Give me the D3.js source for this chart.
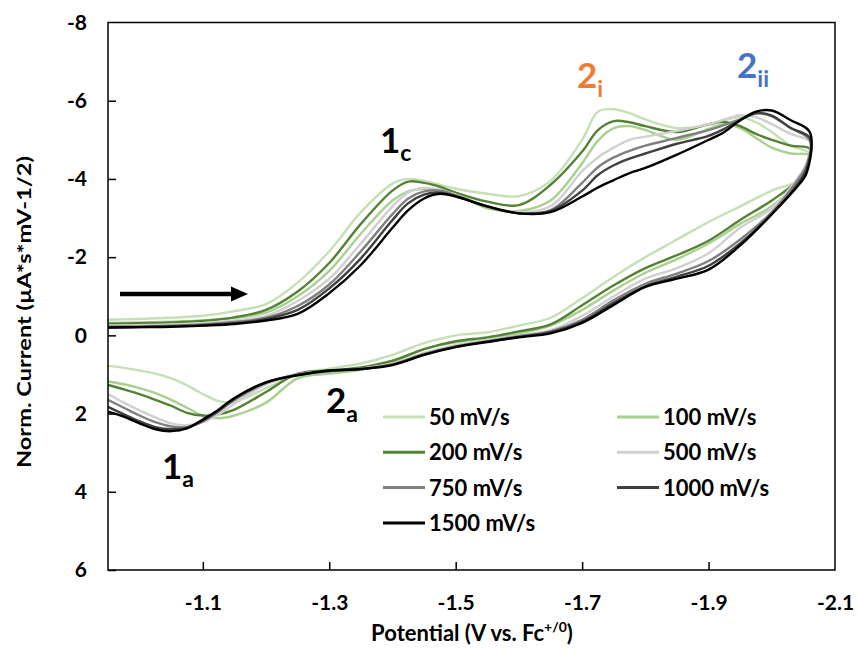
<!DOCTYPE html>
<html lang="en">
<head>
<meta charset="UTF-8">
<script src="https://d3js.org/d3.v7.min.js"></script>
<style>
    body{margin:0;background:#fff;}
    text{font-family:Lato,"Open Sans",sans-serif;font-weight:bold;fill:#000;}
</style>
<title>CV scan rates</title>
</head>
<body>
<div class="canvas"></div>
<script>
    // potentials (V vs Fc+/0), forward sweep then return sweep
    const potentialFwd = [-0.95,-1.0,-1.05,-1.1,-1.15,-1.2,-1.25,-1.3,-1.35,-1.4,-1.425,-1.45,-1.475,-1.5,-1.55,-1.6,-1.65,-1.7,-1.725,-1.75,-1.775,-1.8,-1.85,-1.9,-1.925,-1.95,-1.975,-2.0,-2.03,-2.06];
    const potentialRev = [-2.055,-2.04,-2.0,-1.95,-1.9,-1.85,-1.8,-1.75,-1.7,-1.65,-1.6,-1.55,-1.5,-1.45,-1.4,-1.35,-1.3,-1.25,-1.2,-1.15,-1.125,-1.1,-1.075,-1.05,-1.025,-1.0,-0.975,-0.95];

    const rates = ['50 mV/s','100 mV/s','200 mV/s','500 mV/s','750 mV/s','1000 mV/s','1500 mV/s'];

    // normalized current, forward sweep
    const fwd50   = [-0.4,-0.42,-0.45,-0.5,-0.62,-0.8,-1.35,-2.15,-3.15,-3.88,-4.0,-3.95,-3.85,-3.75,-3.62,-3.56,-3.95,-5.0,-5.72,-5.78,-5.68,-5.52,-5.3,-5.38,-5.5,-5.58,-5.45,-5.2,-4.85,-4.65];
    const fwd100  = [-0.32,-0.33,-0.35,-0.38,-0.45,-0.58,-1.0,-1.65,-2.6,-3.45,-3.68,-3.75,-3.72,-3.6,-3.25,-3.18,-3.45,-4.4,-4.98,-5.3,-5.35,-5.25,-5.0,-5.28,-5.4,-5.3,-5.05,-4.8,-4.65,-4.6];
    const fwd200  = [-0.3,-0.31,-0.33,-0.37,-0.46,-0.65,-1.12,-1.85,-2.85,-3.7,-3.93,-3.9,-3.8,-3.65,-3.42,-3.33,-3.85,-4.7,-5.25,-5.48,-5.45,-5.35,-5.2,-5.4,-5.46,-5.35,-5.15,-5.0,-4.85,-4.77];
    const fwd500  = [-0.25,-0.26,-0.28,-0.31,-0.38,-0.5,-0.88,-1.45,-2.35,-3.3,-3.65,-3.77,-3.72,-3.6,-3.3,-3.15,-3.3,-4.2,-4.55,-4.8,-5.0,-5.08,-5.23,-5.4,-5.52,-5.63,-5.58,-5.4,-5.15,-4.95];
    const fwd750  = [-0.22,-0.23,-0.25,-0.28,-0.34,-0.45,-0.75,-1.3,-2.15,-3.1,-3.5,-3.68,-3.7,-3.58,-3.3,-3.12,-3.2,-3.9,-4.3,-4.55,-4.72,-4.85,-5.05,-5.25,-5.38,-5.52,-5.68,-5.6,-5.3,-5.0];
    const fwd1000 = [-0.2,-0.21,-0.23,-0.26,-0.31,-0.42,-0.65,-1.2,-1.97,-2.95,-3.38,-3.6,-3.65,-3.56,-3.3,-3.12,-3.18,-3.7,-4.1,-4.35,-4.52,-4.65,-4.9,-5.1,-5.28,-5.5,-5.68,-5.62,-5.3,-5.05];
    const fwd1500 = [-0.2,-0.21,-0.22,-0.25,-0.29,-0.38,-0.55,-1.08,-1.8,-2.75,-3.2,-3.5,-3.62,-3.55,-3.3,-3.12,-3.15,-3.55,-3.78,-3.97,-4.15,-4.28,-4.62,-5.0,-5.2,-5.5,-5.72,-5.75,-5.5,-5.2];

    // normalized current, return sweep
    const rev50   = [-4.3,-3.95,-3.7,-3.3,-2.9,-2.45,-2.0,-1.5,-0.95,-0.45,-0.25,-0.08,0.0,0.2,0.5,0.72,0.85,1.0,1.35,1.7,1.68,1.5,1.28,1.1,0.98,0.9,0.83,0.78];
    const rev100  = [-4.25,-3.9,-3.3,-2.85,-2.35,-1.95,-1.6,-1.15,-0.65,-0.25,-0.05,0.08,0.18,0.35,0.7,0.88,0.98,1.1,1.72,2.05,2.12,2.05,1.85,1.65,1.48,1.35,1.25,1.18];
    const rev200  = [-4.35,-3.95,-3.45,-2.95,-2.42,-2.05,-1.72,-1.28,-0.77,-0.28,-0.1,0.05,0.15,0.35,0.65,0.82,0.9,0.98,1.45,1.9,2.02,2.05,1.98,1.8,1.65,1.5,1.38,1.27];
    const rev500  = [-4.4,-4.0,-3.25,-2.75,-2.1,-1.72,-1.45,-1.0,-0.5,-0.13,0.0,0.12,0.25,0.45,0.72,0.85,0.92,1.0,1.25,1.75,2.02,2.22,2.3,2.25,2.1,1.92,1.72,1.5];
    const rev750  = [-4.35,-3.95,-3.15,-2.45,-1.9,-1.58,-1.32,-0.9,-0.4,-0.1,0.02,0.15,0.28,0.48,0.74,0.86,0.92,1.0,1.22,1.65,1.95,2.2,2.35,2.33,2.22,2.05,1.85,1.65];
    const rev1000 = [-4.25,-3.85,-3.1,-2.35,-1.78,-1.5,-1.25,-0.83,-0.35,-0.08,0.04,0.16,0.29,0.49,0.75,0.86,0.91,1.01,1.2,1.62,1.92,2.18,2.36,2.4,2.35,2.2,2.02,1.83];
    const rev1500 = [-4.15,-3.8,-3.1,-2.3,-1.68,-1.45,-1.24,-0.78,-0.32,-0.05,0.05,0.17,0.3,0.5,0.76,0.86,0.9,1.02,1.2,1.6,1.9,2.15,2.38,2.45,2.4,2.25,2.08,1.95];

    const xTicks = [-1.1,-1.3,-1.5,-1.7,-1.9,-2.1];
    const yTicks = [-8,-6,-4,-2,0,2,4,6];

    const colors = ['#c5e0b4','#a9d18e','#548235','#d0d0d0','#808080','#404040','#000000'];
    const fwdAll = [fwd50,fwd100,fwd200,fwd500,fwd750,fwd1000,fwd1500];
    const revAll = [rev50,rev100,rev200,rev500,rev750,rev1000,rev1500];

    const series = rates.map((r,i)=>({
        name:r,
        color:colors[i],
        points: potentialFwd.map((v,j)=>[v,fwdAll[i][j]])
                  .concat(potentialRev.map((v,j)=>[v,revAll[i][j]]))
    }));

    const width = 859, height = 649;
    const [ml,mr,mt,mb] = [108,24,22.5,79];
    const svg = d3.select('.canvas').append('svg')
                  .attr('width',width).attr('height',height);

    const x = d3.scaleLinear().domain([-0.95,-2.1]).range([ml,width-mr]);
    const y = d3.scaleLinear().domain([-8,6]).range([mt,height-mb]);

    // curves
    const line = d3.line()
                   .x(d=>x(d[0]))
                   .y(d=>y(d[1]))
                   .curve(d3.curveCatmullRom.alpha(0.5));
    svg.append('g').selectAll('path')
       .data(series)
       .enter().append('path')
       .attr('d',d=>line(d.points))
       .attr('fill','none')
       .attr('stroke',d=>d.color)
       .attr('stroke-width',2.4)
       .attr('stroke-linejoin','round');

    // frame
    svg.append('rect')
       .attr('x',ml).attr('y',mt)
       .attr('width',width-mr-ml).attr('height',height-mb-mt)
       .attr('fill','none').attr('stroke','#000').attr('stroke-width',1.5);

    const xAxis = d3.axisBottom(x).tickValues(xTicks).tickSize(-8).tickPadding(25)
                    .tickFormat(d=>d.toFixed(1));
    const yAxis = d3.axisLeft(y).tickValues(yTicks).tickSize(-8).tickPadding(21)
                    .tickFormat(d=>String(d));
    const xAxisG = svg.append('g').attr('transform',`translate(0,${height-mb})`).call(xAxis);
    const yAxisG = svg.append('g').attr('transform',`translate(${ml},0)`).call(yAxis);
    [xAxisG,yAxisG].forEach(g=>{
        g.select('.domain').remove();
        g.selectAll('line').attr('stroke','#000').attr('stroke-width',1.5);
        g.selectAll('text').style('font-size','21px').attr('fill','#000')
         .style('font-family','Lato,"Open Sans",sans-serif').style('font-weight','bold');
    });
    yAxisG.select('.tick:first-child line').remove();
    xAxisG.selectAll('.tick').filter(d=>d===-2.1).select('line').remove();

    // axis titles
    const xt = svg.append('text').attr('x',472).attr('y',641).attr('text-anchor','middle')
                  .style('font-size','22px');
    xt.append('tspan').text('Potential (V vs. Fc');
    xt.append('tspan').text('+/0').style('font-size','14px').attr('dy',-9);
    xt.append('tspan').text(')').attr('dy',9);

    svg.append('text')
       .attr('transform','translate(31,312) rotate(-90)')
       .attr('text-anchor','middle')
       .attr('textLength',312)
       .attr('lengthAdjust','spacingAndGlyphs')
       .style('font-size','19.5px')
       .text('Norm. Current (µA*s*mV-1/2)');

    // legend, two columns
    const legend = svg.append('g');
    series.forEach((s,i)=>{
        const col = i%2, row = Math.floor(i/2);
        const lx = col===0 ? 383 : 617;
        const ly = 417 + row*35.3;
        legend.append('line').attr('x1',lx).attr('x2',lx+42).attr('y1',ly).attr('y2',ly)
              .attr('stroke',s.color).attr('stroke-width',3);
        legend.append('text').attr('x',lx+46).attr('y',ly).attr('dy','0.36em')
              .style('font-size','22px').text(s.name);
    });

    // peak labels
    const labels = [
        {t:'1',s:'c',x:380,y:153,dy:8,c:'#000'},
        {t:'2',s:'i',x:577,y:88,dy:9,c:'#ed7d31'},
        {t:'2',s:'ii',x:737,y:78,dy:9,c:'#4472c4'},
        {t:'1',s:'a',x:162,y:479,dy:8,c:'#000'},
        {t:'2',s:'a',x:326,y:413,dy:9,c:'#000'}
    ];
    labels.forEach(l=>{
        const t = svg.append('text').attr('x',l.x).attr('y',l.y).style('font-size','35px')
                     .style('fill',l.c);
        t.append('tspan').text(l.t);
        t.append('tspan').text(l.s).attr('dy',l.dy).style('font-size','23px');
    });

    // sweep direction arrow
    svg.append('line').attr('x1',120).attr('x2',234).attr('y1',294).attr('y2',294)
       .attr('stroke','#000').attr('stroke-width',4.5);
    svg.append('path').attr('d','M231,286.5 L248,294 L231,301.5 Z').attr('fill','#000');
</script>
</body>
</html>
